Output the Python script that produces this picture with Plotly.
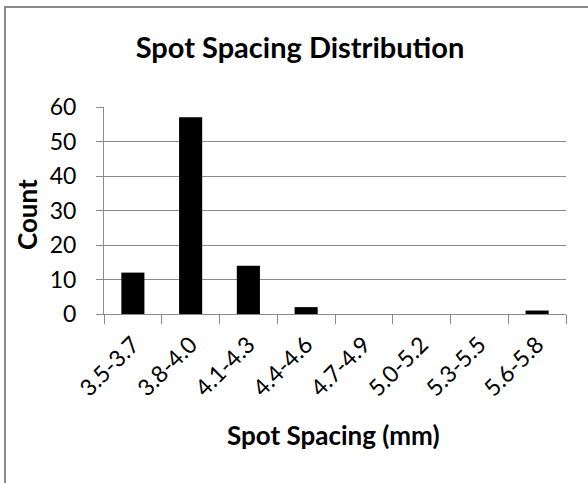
import plotly.graph_objects as go

categories = ["3.5-3.7", "3.8-4.0", "4.1-4.3", "4.4-4.6", "4.7-4.9", "5.0-5.2", "5.3-5.5", "5.6-5.8"]
counts = [12, 57, 14, 2, 0, 0, 0, 1]
y_ticks = [0, 10, 20, 30, 40, 50, 60]

W, H = 588, 483
L, R, T, B = 104, 566, 107, 314  # plot area in pixels
pw, ph = R - L, B - T

def px(x):
    return (x - L) / pw

def py(y):
    return (B - y) / ph

FONT = "Lato"
grid = "#8a8a8a"

fig = go.Figure(go.Bar(x=categories, y=counts, marker=dict(color="black", line=dict(width=0)), width=0.4))

fig.update_layout(
    width=W, height=H,
    margin=dict(l=L, r=W - R, t=T, b=H - B),
    paper_bgcolor="white", plot_bgcolor="white",
    showlegend=False,
    font=dict(family=FONT, color="black"),
    title=dict(text="<b>Spot Spacing Distribution</b>", x=300 / W, xanchor="center",
               xref="container", y=1 - 48 / H, yanchor="middle", yref="container",
               font=dict(size=29, family=FONT, color="black")),
    xaxis=dict(type="category", tickson="boundaries", ticks="outside", ticklen=9, tickcolor=grid,
               tickwidth=1, showline=True, linecolor=grid, linewidth=1, showgrid=False,
               tickangle=-45, tickfont=dict(size=23, family=FONT, color="black"), range=[-0.5, 7.5],
               ticklabelstandoff=7),
    yaxis=dict(range=[0, 60], tickvals=y_ticks, ticks="outside", ticklen=7, tickcolor=grid,
               showline=True, linecolor=grid, linewidth=1, showgrid=True, gridcolor=grid, gridwidth=1,
               tickfont=dict(size=23, family=FONT, color="black"), ticklabelstandoff=15, zeroline=False),
    annotations=[
        dict(text="<b>Count</b>", x=px(27), y=py(215), xref="paper", yref="paper", textangle=-90,
             showarrow=False, xanchor="center", yanchor="middle", font=dict(size=26, family=FONT, color="black")),
        dict(text="<b>Spot Spacing (mm)</b>", x=px(333.5), y=py(435), xref="paper", yref="paper",
             showarrow=False, xanchor="center", yanchor="middle", font=dict(size=26, family=FONT, color="black")),
    ],
    shapes=[
        dict(type="rect", xref="paper", yref="paper", x0=px(5), x1=px(600), y0=py(495), y1=py(7),
             line=dict(color="#8a8a8a", width=2), fillcolor="rgba(0,0,0,0)", layer="below"),
    ],
)

fig.write_html("out.html")
